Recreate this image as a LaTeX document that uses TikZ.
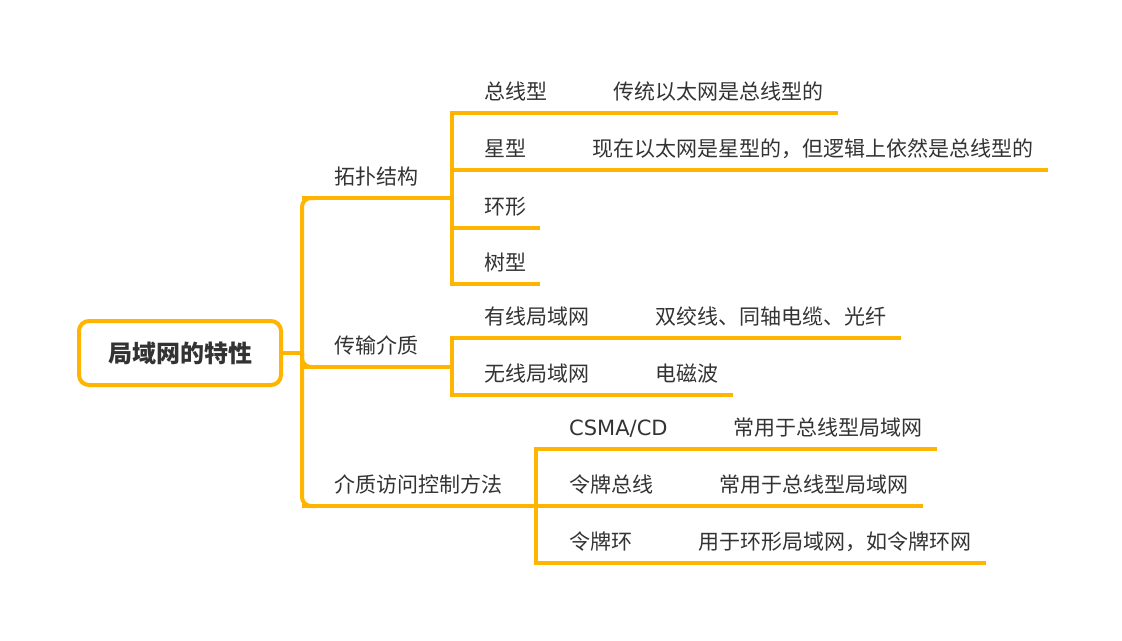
\documentclass[tikz,border=0pt]{standalone}
\usepackage{fontspec}
\setmainfont{Noto Sans CJK SC}
\newfontfamily\csmafont{DejaVu Sans}
\usetikzlibrary{positioning}
\definecolor{mapline}{RGB}{255,180,0}
\definecolor{maptext}{RGB}{51,51,51}
\tikzset{
  topic/.style={font=\fontsize{21}{25}\selectfont,text=maptext,anchor=south west,
    inner xsep=14pt,inner ysep=9pt,text height=17pt,text depth=4pt,
    execute at begin node={\hspace*{18pt}}},
  rootbox/.style={draw=mapline,line width=4pt,rounded corners=10pt,
    minimum width=202pt,minimum height=64pt,font=\fontsize{24}{28}\selectfont\bfseries,text=maptext},
  uline/.style={draw=mapline,line width=4pt},
  link/.style={draw=mapline,line width=4pt},
}
\begin{document}
\begin{tikzpicture}[x=1pt,y=-1pt]
\fill[white] (0,0) rectangle (1122,640);
\useasboundingbox (0,0) rectangle (1122,640);
% root
\node[rootbox] (root) at (180,353) {局域网的特性};
% first level
\node[topic] (topo)  at (302,198) {拓扑结构};
\node[topic] (media) at (302,367) {传输介质};
\node[topic] (mac)   at (302,506) {介质访问控制方法};
% topology
\node[topic] (bus)  at (452,113) {总线型};
\node[topic] (star) at (452,170) {星型};
\node[topic] (ring) at (452,228) {环形};
\node[topic] (tree) at (452,284) {树型};
\node[topic,right=20pt of bus.south east,anchor=south west]  (busx)  {传统以太网是总线型的};
\node[topic,right=20pt of star.south east,anchor=south west] (starx) {现在以太网是星型的，但逻辑上依然是总线型的};
% media
\node[topic] (wired)    at (452,338) {有线局域网};
\node[topic] (wireless) at (452,395) {无线局域网};
\node[topic,right=20pt of wired.south east,anchor=south west]    (wiredx)    {双绞线、同轴电缆、光纤};
\node[topic,right=20pt of wireless.south east,anchor=south west] (wirelessx) {电磁波};
% access control
\node[topic] (csma)  at (537,449) {\csmafont CSMA/CD};
\node[topic] (tbus)  at (537,506) {令牌总线};
\node[topic] (tring) at (537,563) {令牌环};
\node[topic,right=20pt of csma.south east,anchor=south west]  (csmax)  {常用于总线型局域网};
\node[topic,right=20pt of tbus.south east,anchor=south west]  (tbusx)  {常用于总线型局域网};
\node[topic,right=20pt of tring.south east,anchor=south west] (tringx) {用于环形局域网，如令牌环网};
% underlines
\foreach \n in {topo,media,mac,bus,star,ring,tree,wired,wireless,csma,tbus,tring,
  busx,starx,wiredx,wirelessx,csmax,tbusx,tringx}
  \draw[uline] (\n.south west) -- (\n.south east);
% junctions
\coordinate (rootj)  at ([xshift=19pt]root.east);
\coordinate (topoj)  at ([xshift=20pt]topo.south east);
\coordinate (mediaj) at ([xshift=20pt]media.south east);
\coordinate (macj)   at ([xshift=20pt]mac.south east);
% connectors
\draw[link] (root.east) -- (rootj);
\foreach \n in {topo,media,mac}
  \draw[link,rounded corners=9pt] (rootj) |- ([xshift=14pt]\n.south west);
\draw[link] (topo.south east) -- (topoj);
\foreach \n in {bus,star,ring,tree}
  \draw[link] (topoj) |- ([xshift=6pt]\n.south west);
\draw[link] (media.south east) -- (mediaj);
\foreach \n in {wired,wireless}
  \draw[link] (mediaj) |- ([xshift=6pt]\n.south west);
\draw[link] (mac.south east) -- (macj);
\foreach \n in {csma,tbus,tring}
  \draw[link] (macj) |- ([xshift=6pt]\n.south west);
\foreach \a/\b in {bus/busx,star/starx,wired/wiredx,wireless/wirelessx,csma/csmax,tbus/tbusx,tring/tringx}
  \draw[link] (\a.south east) -- (\b.south west);
\end{tikzpicture}
\end{document}
